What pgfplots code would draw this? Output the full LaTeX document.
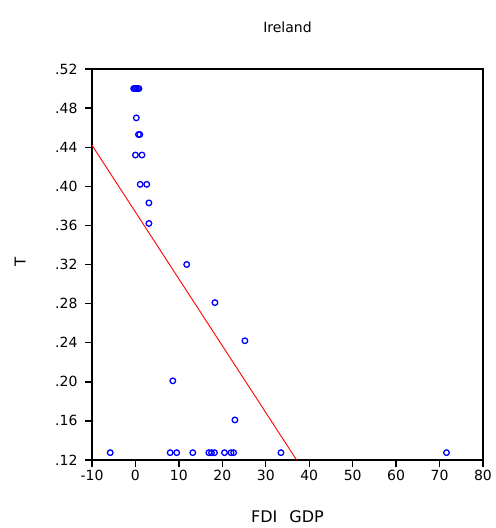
\documentclass[border=0pt]{standalone}
\usepackage{pgfplots}
\pgfplotsset{compat=1.18}
\usepackage{fontspec}
\setmainfont{DejaVu Sans}
\definecolor{eblue}{RGB}{0,0,255}
\definecolor{ered}{RGB}{255,0,0}
\begin{document}
\begin{tikzpicture}
\path (-92pt,-68pt) rectangle (402pt,460pt);
\begin{axis}[
  at={(0pt,0pt)}, anchor=south west,
  scale only axis, width=391pt, height=391pt,
  xmin=-10, xmax=80, ymin=0.12, ymax=0.52,
  xtick={-10,0,...,80},
  ytick={0.12,0.16,...,0.52},
  yticklabels={.12,.16,.20,.24,.28,.32,.36,.40,.44,.48,.52},
  tick pos=left,
  tick align=outside,
  major tick length=7pt,
  major tick style={black, line width=1.4pt},
  axis line style={line width=1.1pt},
  /pgf/number format/assume math mode=true,
  tick label style={font=\fontsize{14}{16}\selectfont},
  yticklabel style={xshift=-4pt},
  every axis title shift=0pt,
  title={Ireland},
  title style={at={(0.5,1.107)}, anchor=center, font=\fontsize{14}{16}\selectfont},
  xlabel={FDI\hspace{12pt}GDP},
  xlabel style={at={(0.5,-0.146)}, anchor=center, font=\fontsize{16}{18}\selectfont},
  ylabel={T},
  ylabel style={at={(-0.184,0.506)}, anchor=center, rotate=0, font=\fontsize{15}{17}\selectfont},
  clip=false,
]
\addplot[only marks, mark=o, mark size=2.8pt, eblue, mark options={line width=1.3pt}] coordinates {
(-0.4,0.50) (-0.1,0.50) (0.2,0.50) (0.5,0.50) (0.8,0.50)
(0.2,0.47)
(0.7,0.453) (1.0,0.453)
(0.0,0.432) (1.5,0.432)
(1.1,0.402) (2.6,0.402)
(3.1,0.383)
(3.1,0.362)
(11.8,0.32)
(18.3,0.281)
(25.2,0.242)
(8.6,0.201)
(22.9,0.161)
(-5.8,0.1275) (8.0,0.1275) (9.5,0.1275) (13.2,0.1275) (16.9,0.1275) (17.5,0.1275) (18.2,0.1275) (20.5,0.1275) (22.0,0.1275) (22.6,0.1275) (33.5,0.1275) (71.6,0.1275)
};
\addplot[ered, line width=0.9pt] coordinates {(-10,0.442) (37.1,0.12)};
\pgfplotsinvokeforeach{-10,0,10,20,30,40,50,60,70,80}{
  \draw[black, line width=1.4pt] (axis cs:#1,0.12) -- ++(0pt,-7pt);
}
\pgfplotsinvokeforeach{0.12,0.16,0.20,0.24,0.28,0.32,0.36,0.40,0.44,0.48,0.52}{
  \draw[black, line width=1.4pt] (axis cs:-10,#1) -- ++(-7pt,0pt);
}
\end{axis}
\end{tikzpicture}
\end{document}
